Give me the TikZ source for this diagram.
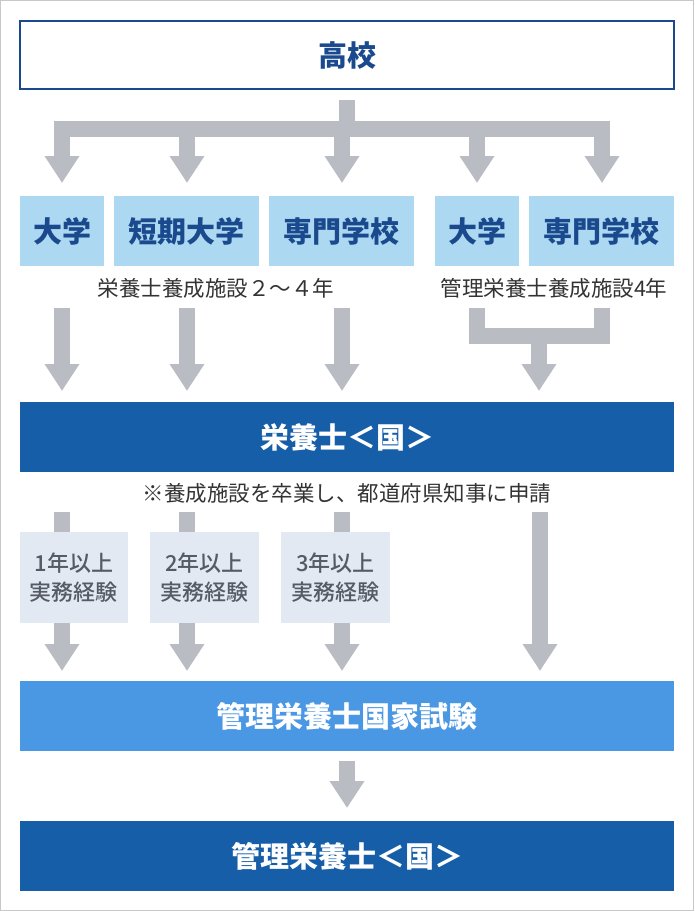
\documentclass[tikz,border=0pt]{standalone}
\usepackage{fontspec}
\usetikzlibrary{arrows.meta}
\newfontfamily\jp{Noto Sans CJK JP}
\newfontfamily\jpm{Noto Sans CJK JP Medium}
\definecolor{navy}{HTML}{1A4A8D}
\definecolor{lblue}{HTML}{ADD8F1}
\definecolor{dblue}{HTML}{175EA9}
\definecolor{mblue}{HTML}{4A97E4}
\definecolor{garr}{HTML}{BABCC4}
\definecolor{gbox}{HTML}{E3E9F3}
\definecolor{gtext}{HTML}{555A65}
\definecolor{frame}{HTML}{C8C8C8}
\tikzset{
  topbox/.style={draw=navy, line width=2pt, fill=white, minimum width=654pt, minimum height=68pt, inner sep=0pt, font=\jp\bfseries\fontsize{29}{29}\selectfont, text=navy},
  lbox/.style={fill=lblue, minimum height=70pt, inner sep=0pt, font=\jp\bfseries\fontsize{29}{29}\selectfont, text=navy},
  widebox/.style={minimum width=654pt, minimum height=70pt, inner sep=0pt, font=\jp\bfseries\fontsize{29}{29}\selectfont, text=white},
  gybox/.style={fill=gbox, minimum width=108pt, minimum height=91pt, inner sep=0pt, align=center, font=\jpm\fontsize{22}{29}\selectfont, text=gtext},
  note/.style={inner sep=0pt, font=\jp\fontsize{21.5}{22}\selectfont, text=black!80},
  gbar/.style={draw=garr, line width=16pt},
  garrow/.style={draw=garr, line width=16pt, -{Triangle[width=33pt,length=27pt]}},
}
\begin{document}
\begin{tikzpicture}[x=1pt,y=-1pt]
\useasboundingbox (0,0) rectangle (694,911);
\draw[frame, line width=1.2pt] (0.6,0.6) rectangle (693.4,910.4);
% nodes
\node[topbox] (koukou) at (347,55) {高校};
\node[lbox, minimum width=84pt]  (d1) at (62,231) {大学};
\node[lbox, minimum width=145pt] (tk) at (186.5,231) {短期大学};
\node[lbox, minimum width=145pt] (s1) at (341.5,231) {専門学校};
\node[lbox, minimum width=84pt]  (d2) at (477,231) {大学};
\node[lbox, minimum width=145pt] (s2) at (601.5,231) {専門学校};
\node[note] (lab1) at (216,288) {栄養士養成施設２～４年};
\node[note] (lab2) at (554,288) {管理栄養士養成施設4年};
\node[widebox, fill=dblue] (eiyo) at (347,437) {栄養士＜国＞};
\node[note] (lab3) at (347,493) {※養成施設を卒業し、都道府県知事に申請};
\node[gybox] (g1) at (74,577.5) {1年以上\\実務経験};
\node[gybox, minimum width=109pt] (g2) at (204.5,577.5) {2年以上\\実務経験};
\node[gybox, minimum width=109pt] (g3) at (335.5,577.5) {3年以上\\実務経験};
\node[widebox, fill=mblue] (kokka) at (347,716) {管理栄養士国家試験};
\node[widebox, fill=dblue] (kanri) at (347,856) {管理栄養士＜国＞};
% tree from koukou
\coordinate (t0) at (347,100);
\coordinate (tb) at (347,136);
\draw[gbar] (t0) -- (tb);
\coordinate (bl) at (54,128.5);
\coordinate (br) at (610,128.5);
\draw[gbar] (bl) -- (br);
\foreach \x/\n in {62/d1,187/tk,342/s1,477/d2,602/s2}{
  \coordinate (b\n) at (\x,121);
  \draw[garrow] (b\n) -- ([yshift=13pt]\x,196);
}
% second level arrows
\foreach \x in {62,187,342}{
  \coordinate (m\x) at (\x,308);
  \draw[garrow] (m\x) -- ([yshift=11pt]\x,402);
}
\coordinate (r1) at (477,308);
\coordinate (r2) at (602,308);
\draw[gbar] (r1) -- (477,343);
\draw[gbar] (r2) -- (602,343);
\draw[gbar] (469,335.5) -- (610,335.5);
\coordinate (rm) at (539,335.5);
\draw[garrow] (rm) -- ([yshift=11pt]539,402);
% third level
\foreach \x in {62,187,342}{
  \coordinate (n\x) at (\x,512);
  \draw[gbar] (n\x) -- (\x,532);
  \coordinate (p\x) at (\x,623);
  \draw[garrow] (p\x) -- ([yshift=10pt]\x,681);
}
\coordinate (lr) at (540,512);
\draw[garrow] (lr) -- ([yshift=10pt]540,681);
% last
\coordinate (q) at (347,761);
\draw[garrow] (q) -- ([yshift=13pt]347,821);
\end{tikzpicture}
\end{document}
